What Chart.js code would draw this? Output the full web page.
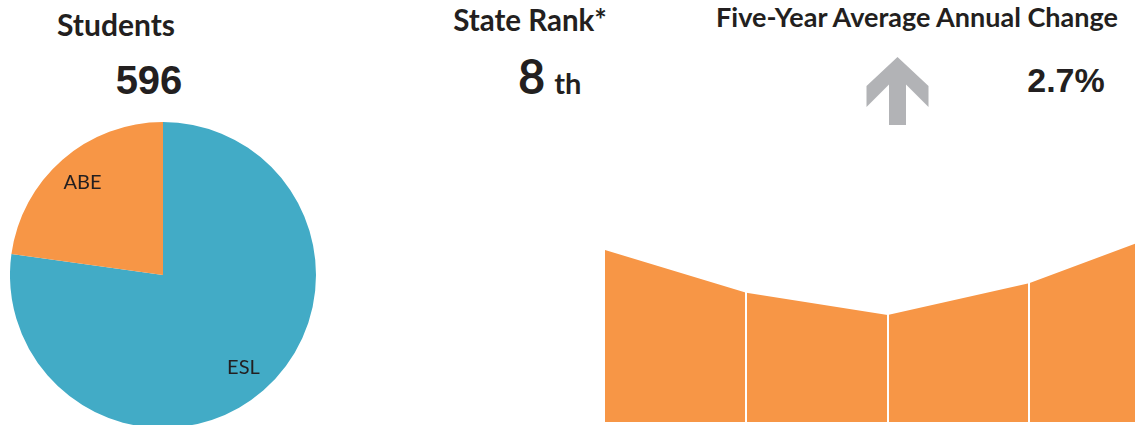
<!DOCTYPE html>
<html>
<head>
<meta charset="utf-8">
<script src="https://cdn.jsdelivr.net/npm/chart.js@4"></script>
<style>
  html, body { margin: 0; padding: 0; background: #fff; overflow: hidden; }
  body { width: 1135px; height: 425px; position: relative; }
  #pieBox { position: absolute; left: 10px; top: 122px; width: 306px; height: 306px; }
  #areaBox { position: absolute; left: 605px; top: 222px; width: 530px; height: 200px; }
  svg#overlay { position: absolute; left: 0; top: 0; }
  .hdr { font-family: Lato, sans-serif; font-weight: 700; fill: #231f20; }
  .num { font-family: "Liberation Sans", Arial, sans-serif; font-weight: 700; fill: #231f20; }
  .rank { font-family: Lato, sans-serif; font-weight: 700; fill: #231f20; }
</style>
</head>
<body>
<svg id="overlay" width="1135" height="425" xmlns="http://www.w3.org/2000/svg">
  <text class="hdr" x="116" y="36" text-anchor="middle" font-size="30">Students</text>
  <text class="num" x="149" y="94" text-anchor="middle" font-size="40">596</text>
  <text class="hdr" x="530" y="31" text-anchor="middle" font-size="29.5">State Rank*</text>
  <text class="rank" x="518" y="94" font-size="47">8<tspan font-size="29" dx="9">th</tspan></text>
  <text class="hdr" x="917" y="27" text-anchor="middle" font-size="27">Five-Year Average Annual Change</text>
  <polygon points="897.5,57 928.5,86 928.5,107 906,84.5 906,125 889,125 889,84.5 866.5,107 866.5,86" fill="#b2b3b6"/>
  <text class="num" x="1066" y="92" text-anchor="middle" font-size="34">2.7%</text>
</svg>
<div id="pieBox"><canvas id="pie" width="306" height="306"></canvas></div>
<div id="areaBox"><canvas id="area" width="530" height="200"></canvas></div>
<script>
// ---- data ----
const pieLabels = ["ESL", "ABE"];
const pieValues = [460, 136];
const pieColors = ["#42abc6", "#f79646"];

const yearIndex = [0, 1, 2, 3, 4];
const enrollment = [536, 403, 333, 432, 596];
const separatorTicks = [1, 2, 3];

// ---- pie labels plugin ----
const pieLabelPlugin = {
  id: "pieLabels",
  afterDatasetsDraw(chart) {
    const ctx = chart.ctx;
    const meta = chart.getDatasetMeta(0);
    ctx.save();
    ctx.font = "20px Lato, sans-serif";
    ctx.fillStyle = "#231f20";
    ctx.textAlign = "center";
    ctx.textBaseline = "middle";
    meta.data.forEach((arc, i) => {
      const p = arc.getProps(["x", "y", "startAngle", "endAngle", "outerRadius"], true);
      const mid = (p.startAngle + p.endAngle) / 2;
      const r = p.outerRadius * 0.8;
      ctx.fillText(chart.data.labels[i], p.x + Math.cos(mid) * r, p.y + Math.sin(mid) * r);
    });
    ctx.restore();
  }
};

new Chart(document.getElementById("pie"), {
  type: "pie",
  data: {
    labels: pieLabels,
    datasets: [{ data: pieValues, backgroundColor: pieColors, borderWidth: 0 }]
  },
  options: {
    responsive: false,
    animation: false,
    layout: { padding: 0 },
    plugins: { legend: { display: false }, tooltip: { enabled: false } }
  },
  plugins: [pieLabelPlugin]
});

new Chart(document.getElementById("area"), {
  type: "line",
  data: {
    datasets: [{
      data: yearIndex.map((x, i) => ({ x: x, y: enrollment[i] })),
      fill: "origin",
      backgroundColor: "#f79646",
      borderColor: "rgba(0,0,0,0)",
      borderWidth: 0,
      pointRadius: 0,
      tension: 0
    }]
  },
  options: {
    responsive: false,
    animation: false,
    layout: { padding: 0 },
    plugins: { legend: { display: false }, tooltip: { enabled: false } },
    scales: {
      x: {
        type: "linear",
        min: 0,
        max: 3.75,
        ticks: { display: false, stepSize: 1 },
        border: { display: false },
        grid: {
          z: 1,
          drawTicks: false,
          lineWidth: 2,
          color: (c) => (c.tick && separatorTicks.includes(c.tick.value)) ? "#ffffff" : "rgba(0,0,0,0)"
        }
      },
      y: { display: false, min: 0, max: 623 }
    }
  }
});
</script>
</body>
</html>
